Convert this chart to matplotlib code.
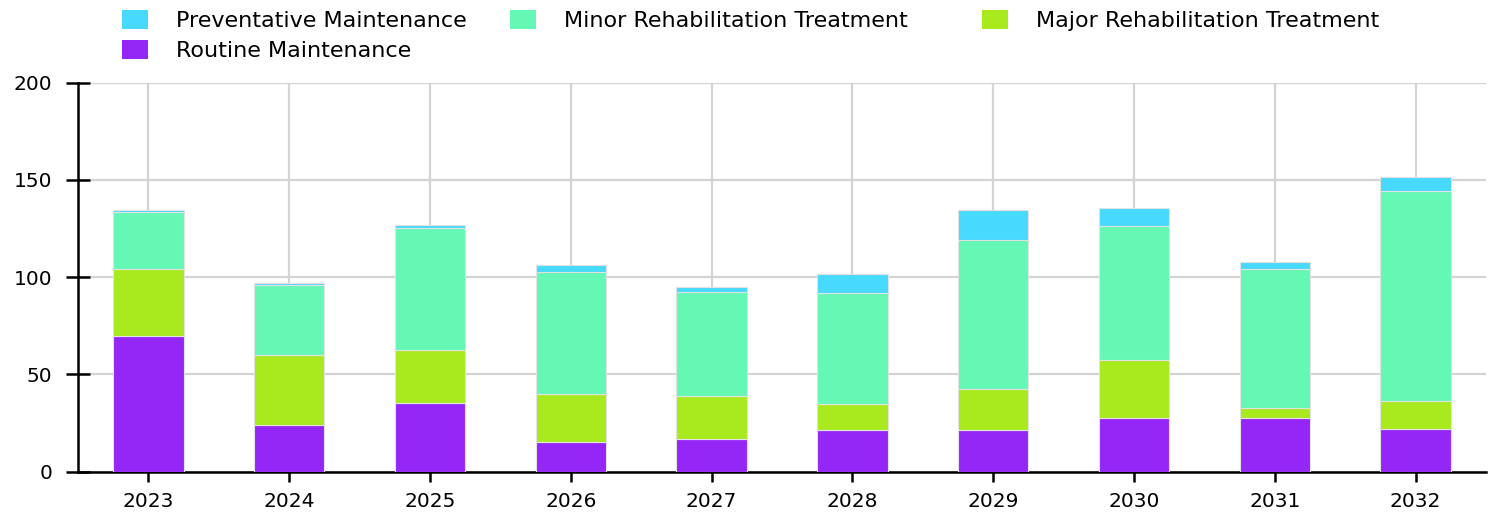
import matplotlib
matplotlib.use("Agg")
import matplotlib.pyplot as plt
import numpy as np

plt.rcParams['font.family'] = ['DejaVu Sans']

years = ["2023", "2024", "2025", "2026", "2027", "2028", "2029", "2030", "2031", "2032"]
routine = [69.6, 24.2, 35.3, 15.4, 16.9, 21.5, 21.2, 27.8, 27.4, 22.1]
major = [34.6, 36.0, 27.3, 24.6, 22.2, 13.5, 21.1, 29.8, 5.1, 14.4]
minor = [29.5, 35.6, 62.7, 62.7, 53.1, 57.0, 76.6, 68.5, 71.5, 107.8]
preventative = [0.6, 1.2, 1.7, 3.4, 2.9, 9.4, 15.4, 9.5, 4.0, 7.0]

c_routine = "#9427F5"
c_major = "#A8EA1E"
c_minor = "#64F8B4"
c_prev = "#48D9FF"

W, H = 1496, 515
fig = plt.figure(figsize=(W / 100, H / 100), dpi=100)
ax = fig.add_axes([78 / W, 43.3 / H, (1486 - 78) / W, (471.7 - 82.7) / H])

x = np.arange(len(years))
w = 0.5
edge = dict(edgecolor="#e2e2e2", linewidth=0.8)
b_r = ax.bar(x, routine, w, color=c_routine, label="Routine Maintenance", zorder=3, **edge)
bottom = np.array(routine)
b_ma = ax.bar(x, major, w, bottom=bottom, color=c_major, label="Major Rehabilitation Treatment", zorder=3, **edge)
bottom = bottom + np.array(major)
b_mi = ax.bar(x, minor, w, bottom=bottom, color=c_minor, label="Minor Rehabilitation Treatment", zorder=3, **edge)
bottom = bottom + np.array(minor)
b_p = ax.bar(x, preventative, w, bottom=bottom, color=c_prev, label="Preventative Maintenance", zorder=3, **edge)

ax.set_xlim(-0.5, 9.5)
ax.set_ylim(0, 200)
ax.set_yticks([0, 50, 100, 150, 200])
ax.set_xticks(x)
ax.set_xticklabels(years)

ax.grid(True, color="#d4d4d4", linewidth=1.6, zorder=0)
ax.set_axisbelow(True)
for s in ("top", "right"):
    ax.spines[s].set_visible(False)
for s in ("left", "bottom"):
    ax.spines[s].set_linewidth(1.8)
    ax.spines[s].set_color("black")

ax.tick_params(axis="y", direction="inout", length=17, width=1.8, pad=10, labelsize=14.5, colors="black")
ax.tick_params(axis="x", direction="inout", length=13.7, width=1.8, pad=8, labelsize=14.5, colors="black")

# legend laid out as three columns, each anchored at its own left edge
legend_cols = [([b_p, b_r], 122), ([b_mi], 510), ([b_ma], 982)]
for hs, left in legend_cols:
    leg = fig.legend(hs, [h.get_label() for h in hs], loc="upper left",
                     bbox_to_anchor=(left / W, 1 - 10 / H), frameon=False,
                     fontsize=16, borderpad=0, borderaxespad=0,
                     handlelength=1.15, handleheight=0.95,
                     handletextpad=1.3, labelspacing=0.4)
    for h in leg.legend_handles:
        h.set_edgecolor("none")

fig.savefig("out.png", dpi=100)
